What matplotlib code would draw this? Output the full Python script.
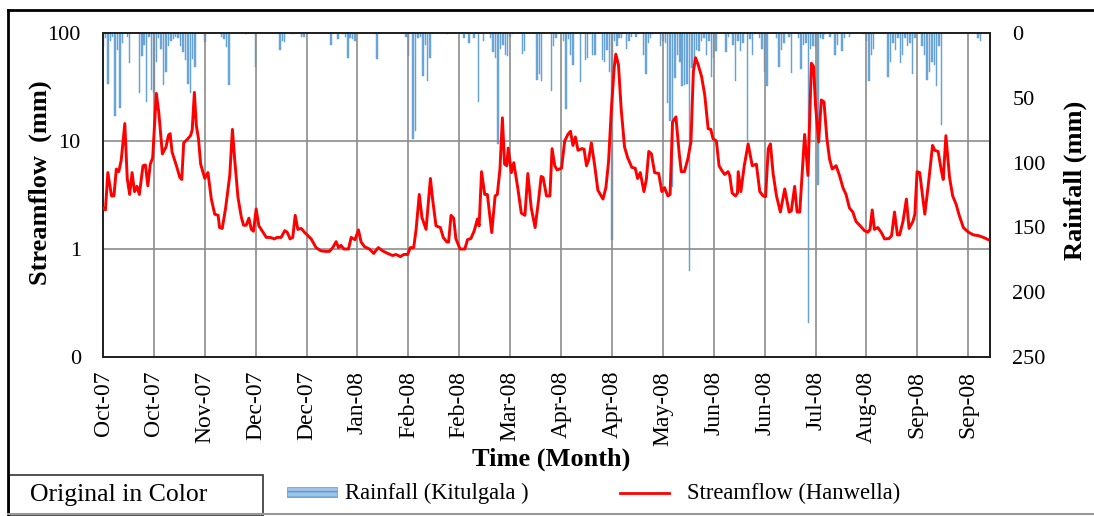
import matplotlib
matplotlib.use("Agg")
import matplotlib.pyplot as plt
import numpy as np
from matplotlib.ticker import FixedLocator, FixedFormatter, NullLocator
from matplotlib.patches import Rectangle
from matplotlib.lines import Line2D

plt.rcParams['font.family'] = ['Liberation Serif', 'DejaVu Serif']

# x axis = days after 1 Oct 2007, ticks every 21 days
tick_days = list(range(0, 366, 21))
tick_labels = ['Oct-07', 'Oct-07', 'Nov-07', 'Dec-07', 'Dec-07', 'Jan-08',
               'Feb-08', 'Feb-08', 'Mar-08', 'Apr-08', 'Apr-08', 'May-08',
               'Jun-08', 'Jun-08', 'Jul-08', 'Aug-08', 'Sep-08', 'Sep-08']

# streamflow at Hanwella (mm)
flow_day = [0, 1, 2, 3.5, 4.5, 5.5, 6.5, 7.5, 9, 10, 11, 12, 13, 14, 15, 16.5, 17.5, 18.5, 19.5, 20.5,
            22, 23, 24.5, 26, 27, 27.7, 28.5, 30.3, 31.7, 32.5, 33.3, 34.7, 36.1, 36.8, 37.7, 38.5, 39.4,
            40.3, 42, 43.3, 44.7, 46.1, 47.5, 48.1, 49.2, 50.6, 52.3, 53.4, 54.3, 55.7, 57.1, 58, 59.1,
            60.2, 61.2, 62.1, 63.2, 64.3, 66, 67.4, 69, 70.8, 71.7, 73.5, 75, 76, 77.2, 78.3, 79.3, 80.4,
            81.8, 83.1, 84.5, 85.9, 87.9, 90, 92, 93.4, 94.8, 96.2, 97.2, 98.2, 99.4, 101.3, 102.4, 104,
            105.4, 106.5, 107.9, 109.9, 111.7, 113.6, 115.4, 117.5, 119.5, 120.9, 122.7, 124.1, 125.7,
            126.8, 128.2, 129.2, 130.5, 131.6, 133.3, 135.1, 136, 137.4, 139.2, 140.4, 141.9, 142.6,
            143.6, 144.7, 145.6, 147.3, 149.3, 150.4, 151.8, 153.2, 154.5, 155.2, 156.2, 157.5, 158.6,
            160.4, 161.8, 162.7, 163.8, 164.8, 165.7, 166.6, 167.2, 168.5, 169.5, 171.2, 172.6, 174.1,
            175.3, 176.7, 178.3, 179.7, 180.8, 181.6, 183, 184.4, 185.3, 186.4, 187.4, 189.2, 190.5,
            191.8, 192.9, 193.9, 194.9, 196, 197.7, 198.5, 199.5, 200.4, 201.5, 202.9, 204.2, 205.2,
            206.3, 207.5, 208.6, 209.7, 210.9, 211.6, 212.7, 213.8, 215.2, 216.5, 218.2, 219.6, 220.6,
            221.7, 223.2, 224.2, 225.2, 226.3, 227.6, 229.3, 230.6, 231.7, 233.1, 234, 235, 236.4,
            237.7, 238.6, 239.9, 241.3, 242.6, 243.6, 244.5, 245.6, 247, 248.3, 249.7, 250.8, 251.7,
            253.1, 254.2, 255.2, 256.5, 257.9, 258.6, 259.6, 261, 261.8, 262.1, 263.2, 264.6, 266.2,
            267.9, 269.6, 271, 272.4, 273.4, 274.5, 275.4, 276.5, 277.9, 279.5, 281.3, 283.1, 284,
            285.4, 286.4, 287.5, 289.5, 290.9, 292.3, 293.2, 294, 295.3, 296.4, 297.5, 298.7, 299.8,
            300.9, 302.5, 303.9, 305.3, 306.6, 308, 309.4, 310.7, 312.4, 314.2, 315.6, 316.5, 317.4,
            318.3, 319.7, 321.1, 322.5, 324.3, 325.4, 326.6, 327.8, 328.7, 330.1, 331.5, 332.6, 334.2,
            335, 335.9, 337, 339.1, 340.5, 342.3, 343.2, 344.6, 345.8, 346.7, 347.8, 349.3, 350.6, 352,
            353.3, 355, 357.1, 359.2, 361.2, 363.3, 365.3]
flow_mm = [2.4, 2.3, 5.1, 3.1, 3.1, 5.5, 5.2, 6.6, 14.5, 4.5, 3.2, 5.1, 3.4, 3.8, 3.2, 5.9, 6.0, 3.85, 6.1, 7.0,
           27.6, 18.6, 7.6, 8.8, 11.3, 11.7, 7.9, 5.9, 4.6, 4.4, 9.6, 10.3, 11.2, 12.6, 28.2, 14, 10.5,
           6.1, 4.5, 5.1, 2.9, 2.1, 2.05, 1.58, 1.55, 2.4, 4.8, 12.8, 6.9, 3.0, 1.96, 1.66, 1.66,
           1.93, 1.52, 1.46, 2.35, 1.64, 1.43, 1.28, 1.28, 1.24, 1.28, 1.28, 1.48, 1.43, 1.24, 1.28, 2.05, 1.52,
           1.55, 1.43, 1.33, 1.24, 1.03, 0.96, 0.95, 0.95, 1.03, 1.17, 1.03, 1.08, 1.0, 1.0, 1.28, 1.22,
           1.5, 1.16, 1.05, 1.0, 0.91, 1.03, 0.96, 0.91, 0.87, 0.89, 0.85, 0.89, 0.89,
           1.03, 1.03, 1.52, 3.2, 1.96, 1.52, 4.5, 2.9, 1.64, 1.58, 1.28, 1.16, 1.16,
           2.05, 1.93, 1.25, 1.0, 1.0, 1.22, 1.25, 1.48, 1.9, 1.64, 5.2, 3.2, 3.2,
           1.42, 3.1, 3.2, 5.5, 16.4, 6.1, 5.9, 8.6, 5.1, 6.3, 3.6, 2.15, 2.05,
           5.0, 2.4, 1.58, 2.8, 4.7, 4.6, 3.1, 3.1, 8.5, 5.9, 5.4, 5.6, 10,
           11.5, 12.3, 9.1, 10.9, 8.2, 8.5, 8.4, 5.9, 6.7, 9.6, 5.9, 3.5, 3.2,
           2.9, 3.7, 6.4, 18.6, 47, 63.7, 50.7, 20, 8.8, 7.0, 5.7, 5.6, 4.5,
           5.1, 3.4, 4.4, 8.0, 7.6, 5.1, 5.0, 3.4, 3.7, 3.1, 3.2, 15, 16.7,
           7.9, 5.2, 5.2, 6.8, 9.8, 44, 59, 50.7, 39.4, 26.6, 13, 12.8, 10.5,
           10, 5.9, 5.4, 4.9, 5.2, 4.8, 3.3, 3.1, 3.3, 5.2, 3.4, 5.9, 9.4,
           5.9, 6.1, 3.4, 3.1, 3.05, 8.5, 9.4, 5.0, 3.1, 2.2, 3.6, 2.2, 2.25,
           3.8, 2.2, 2.2, 11.5, 4.8, 52.5, 48.9, 21.5, 9.8, 24, 23, 10.5, 6.8,
           5.5, 5.9, 4.8, 3.7, 3.2, 2.4, 2.2, 1.8, 1.64, 1.48, 1.43, 1.52, 2.3,
           1.52, 1.58, 1.43, 1.24, 1.25, 1.33, 2.2, 1.35, 1.35, 1.8, 2.9, 1.55, 1.8,
           2.1, 5.2, 5.1, 2.1, 3.85, 9.1, 8.2, 8.0, 5.5, 4.4, 11.2, 4.6, 3.1, 2.6,
           2.05, 1.58, 1.43, 1.35, 1.33, 1.28, 1.22]

# daily rainfall at Kitulgala (mm), rain days only
rain_day = [0, 1, 2, 3, 4, 5, 6, 7, 8, 10, 11, 15, 16, 17, 18, 19, 20, 21, 22, 23, 24, 25, 26, 27, 28, 29,
            30, 31, 32, 33, 34, 35, 36, 37, 38, 42, 49, 50, 51, 52, 59, 63, 73, 74, 75, 78, 79, 82, 83,
            94, 97, 99, 100, 101, 102, 103, 104, 112, 113, 125, 126, 128, 129, 130, 131, 132, 133, 134,
            135, 142, 149, 151, 153, 155, 157, 160, 161, 162, 163, 164, 165, 166, 167, 168, 169, 173,
            174, 179, 180, 181, 185, 186, 187, 188, 190, 191, 192, 193, 194, 197, 199, 200, 201, 202,
            203, 206, 207, 208, 209, 210, 211, 212, 213, 214, 216, 217, 218, 220, 221, 223, 224, 225,
            226, 227, 230, 231, 232, 233, 234, 235, 236, 237, 238, 239, 240, 241, 242, 243, 244, 245,
            246, 247, 248, 249, 250, 251, 252, 253, 257, 258, 260, 261, 262, 263, 264, 266, 267, 268,
            269, 271, 272, 273, 274, 278, 279, 280, 281, 283, 284, 287, 288, 289, 290, 291, 292, 293,
            294, 295, 296, 297, 298, 300, 302, 303, 305, 306, 308, 314, 315, 316, 317, 318, 322, 324,
            325, 326, 327, 328, 329, 330, 331, 332, 333, 334, 335, 338, 339, 340, 341, 342, 343, 344,
            345, 346, 361, 362]
rain_mm = [10, 4, 39, 6, 3, 64, 13, 58, 8, 3, 23, 46, 18, 9, 53, 3, 44, 46, 22, 4, 12, 40, 30, 10, 6, 5,
           3, 4, 10, 15, 21, 39, 46, 20, 26, 7, 3, 5, 11, 40, 1, 26, 13, 6, 7, 1, 1, 3, 3,
           9, 5, 1, 3, 19, 4, 5, 6, 1, 20, 3, 18, 82, 76, 4, 3, 33, 9, 37,
           19, 1, 4, 8, 4, 53, 6, 4, 15, 19, 86, 12, 9, 17, 18, 3, 1, 16,
           14, 36, 32, 37, 45, 10, 4, 1, 6, 59, 5, 17, 25, 38, 21, 19, 1, 17,
           17, 21, 22, 13, 30, 160, 6, 10, 4, 4, 12, 6, 3, 3, 1, 17, 32, 8,
           4, 1, 10, 6, 8, 54, 68, 119, 35, 17, 22, 41, 40, 39, 184, 27, 22, 13,
           14, 6, 4, 17, 6, 34, 19, 14, 15, 3, 9, 37, 6, 14, 8, 84, 5, 17,
           1, 4, 12, 30, 41, 4, 26, 13, 8, 3, 31, 4, 28, 9, 8, 224, 12, 10,
           11, 117, 4, 5, 1, 3, 17, 9, 14, 4, 3, 1, 6, 37, 17, 12, 1, 34,
           22, 8, 13, 4, 23, 17, 4, 10, 8, 32, 4, 10, 17, 36, 30, 22, 25, 41,
           10, 71, 4, 6]

W, H = 1094, 516
fig = plt.figure(figsize=(W / 100, H / 100), dpi=100)
ax = fig.add_axes([103 / W, 1 - 357 / H, 887 / W, 324 / H])
ax2 = ax.twinx()

# rainfall hangs from the top on an inverted axis
ax2.bar(rain_day, rain_mm, width=0.6, color='#6fa8dc', edgecolor='#5b9bd5', linewidth=0.3)
ax2.set_ylim(250, 0)
ax2.yaxis.set_major_locator(FixedLocator([0, 50, 100, 150, 200, 250]))
ax2.tick_params(axis='y', length=0, pad=16, labelsize=16)

ax.plot(flow_day, flow_mm, color='red', lw=2.1, zorder=3)
ax.set_yscale('log')
ax.set_ylim(0.1, 100)
ax.set_xlim(0, 366)
ax.yaxis.set_major_locator(FixedLocator([0.1, 1, 10, 100]))
ax.yaxis.set_major_formatter(FixedFormatter(['0', '1', '10', '100']))
ax.yaxis.set_minor_locator(NullLocator())
ax.set_xticks(tick_days)
ax.set_xticklabels(tick_labels, rotation=90)
ax.tick_params(axis='y', length=0, pad=16, labelsize=16)
ax.tick_params(axis='x', length=0, pad=10, labelsize=17)
ax.grid(True, color='#8c8c8c', lw=1.2)
ax.set_axisbelow(True)
ax.set_zorder(ax2.get_zorder() + 1)
ax.patch.set_visible(False)

for a in (ax, ax2):
    for s in a.spines.values():
        s.set_color('#222222')
        s.set_linewidth(1.4)

fig.text(40 / W, 1 - 183 / H, 'Streamflow  (mm)', rotation=90, ha='center', va='center',
         fontsize=19, fontweight='bold')
fig.text(1075 / W, 1 - 180 / H, 'Rainfall (mm)', rotation=90, ha='center', va='center',
         fontsize=19, fontweight='bold')
fig.text(551 / W, 1 - 459 / H, 'Time (Month)', ha='center', va='center',
         fontsize=19, fontweight='bold')

# outer frame and the legend strip
fig.add_artist(Line2D([8 / W, 8 / W], [1 - 10 / H, 0], color='black', lw=2))
fig.add_artist(Line2D([8 / W, 1], [1 - 10 / H, 1 - 10 / H], color='black', lw=2))
fig.add_artist(Line2D([8 / W, 1], [1 - 514 / H, 1 - 514 / H], color='#999999', lw=1.5))
fig.add_artist(Rectangle((9 / W, 1 - 516 / H), 254 / W, 41 / H, fill=False,
                         edgecolor='#333333', lw=1.2))
fig.text(30 / W, 1 - 495 / H, 'Original in Color', ha='left', va='center', fontsize=18.5)

fig.add_artist(Rectangle((287 / W, 1 - 497 / H), 50 / W, 10 / H, facecolor='#9dc3e6',
                         edgecolor='#5b9bd5', hatch='---', lw=0.5))
fig.text(345 / W, 1 - 493 / H, 'Rainfall (Kitulgala )', ha='left', va='center', fontsize=16.3)
fig.add_artist(Line2D([620 / W, 669 / W], [1 - 493 / H, 1 - 493 / H], color='red', lw=2))
fig.text(687 / W, 1 - 493 / H, 'Streamflow (Hanwella)', ha='left', va='center', fontsize=16.3)

fig.savefig('out.png', dpi=100)
